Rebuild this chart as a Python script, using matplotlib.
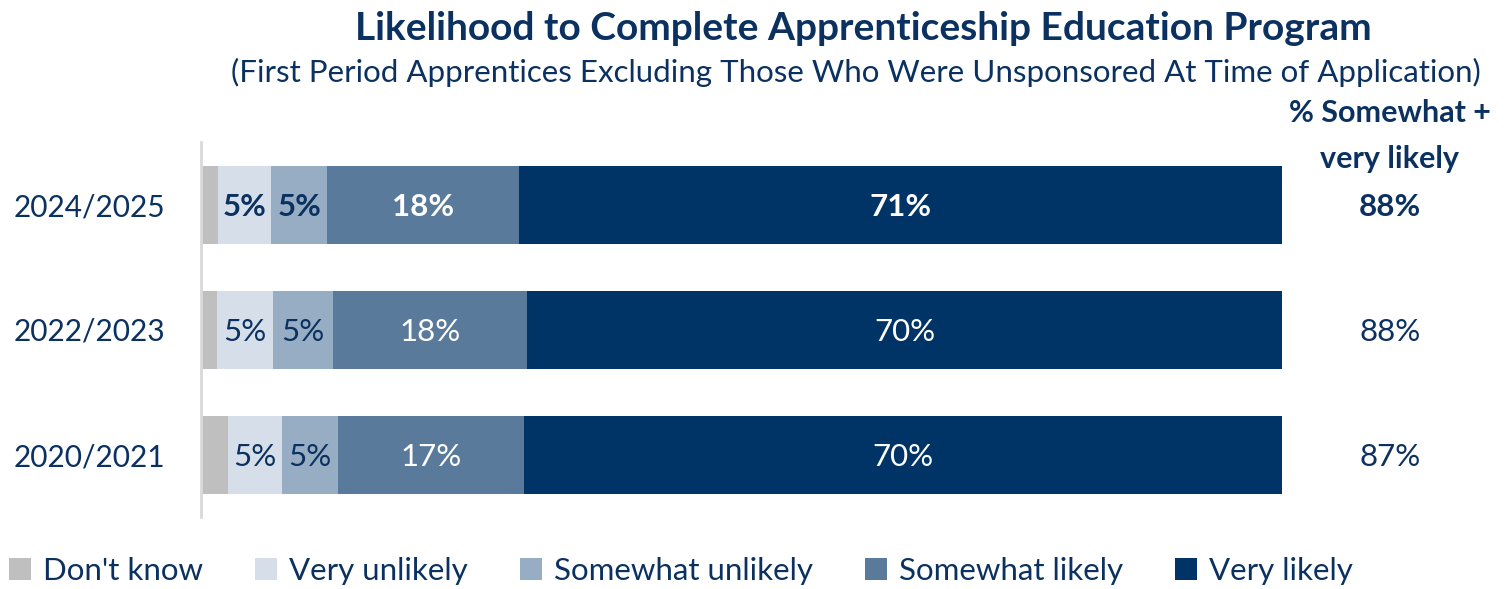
import matplotlib.pyplot as plt
from matplotlib.patches import Patch

plt.rcParams["font.family"] = ["Lato", "DejaVu Sans"]

years = ["2024/2025", "2022/2023", "2020/2021"]
categories = ["Don't know", "Very unlikely", "Somewhat unlikely", "Somewhat likely", "Very likely"]

# segment shares (percent)
dont_know = [1.6, 1.5, 2.5]
very_unlikely = [4.9, 5.2, 5.0]
somewhat_unlikely = [5.2, 5.5, 5.2]
somewhat_likely = [17.7, 18.0, 17.2]
very_likely = [70.6, 69.8, 70.1]

# printed labels
label_vu = ["5%", "5%", "5%"]
label_su = ["5%", "5%", "5%"]
label_sl = ["18%", "18%", "17%"]
label_vl = ["71%", "70%", "70%"]
total_likely = ["88%", "88%", "87%"]

colors = ["#BFBFBF", "#D6DFE9", "#97ADC4", "#5A7A9B", "#003366"]
navy = "#0B3160"
text_colors = [None, navy, navy, "white", "white"]

series = [dont_know, very_unlikely, somewhat_unlikely, somewhat_likely, very_likely]
labels = [None, label_vu, label_su, label_sl, label_vl]

fig = plt.figure(figsize=(15.07, 5.89), dpi=100)
ax = fig.add_axes([201 / 1507, 1 - 517 / 589, 1081 / 1507, 375 / 589])

ypos = list(range(len(years)))
left = [0.0] * len(years)
for vals, col, labs, tcol in zip(series, colors, labels, text_colors):
    ax.barh(ypos, vals, left=left, height=0.624, color=col, edgecolor="none")
    if labs is not None:
        for i, (v, l, lab) in enumerate(zip(vals, left, labs)):
            ax.text(l + v / 2, i + 0.02, lab, ha="center", va="center", fontsize=22.5,
                    color=tcol, fontweight="bold" if i == 0 else "normal")
    left = [a + b for a, b in zip(left, vals)]

ax.set_xlim(0, 100)
ax.set_ylim(len(years) - 0.5, -0.5)
ax.set_yticks(ypos)
ax.set_yticklabels(years, fontsize=21.5, color=navy)
ax.tick_params(axis="y", length=0, pad=26)
ax.set_xticks([])
for s in ["top", "right", "bottom"]:
    ax.spines[s].set_visible(False)
ax.spines["left"].set_color("#D9D9D9")
ax.spines["left"].set_linewidth(2)

# right-hand total column
for i, t in enumerate(total_likely):
    ax.text(110, i + 0.02, t, ha="center", va="center", fontsize=22.5, color=navy,
            fontweight="bold" if i == 0 else "normal", clip_on=False)
fig.text(1390 / 1507, 1 - 136 / 589, "% Somewhat +\nvery likely", ha="center", va="center",
         fontsize=22, fontweight="bold", color=navy, linespacing=1.75)

fig.text(863 / 1507, 1 - 28 / 589, "Likelihood to Complete Apprenticeship Education Program",
         ha="center", va="center", fontsize=28, fontweight="bold", color=navy)
fig.text(856 / 1507, 1 - 72 / 589,
         "(First Period Apprentices Excluding Those Who Were Unsponsored At Time of Application)",
         ha="center", va="center", fontsize=22.5, color=navy)

handles = [Patch(facecolor=c, edgecolor="none") for c in colors]
leg = fig.legend(handles, categories, loc="center", bbox_to_anchor=(681 / 1507, 1 - 571 / 589),
                 ncol=5, frameon=False, fontsize=22.5, handlelength=0.7, handleheight=0.7,
                 handletextpad=0.4, columnspacing=1.65, labelcolor=navy)

fig.savefig("out.png", dpi=100)
